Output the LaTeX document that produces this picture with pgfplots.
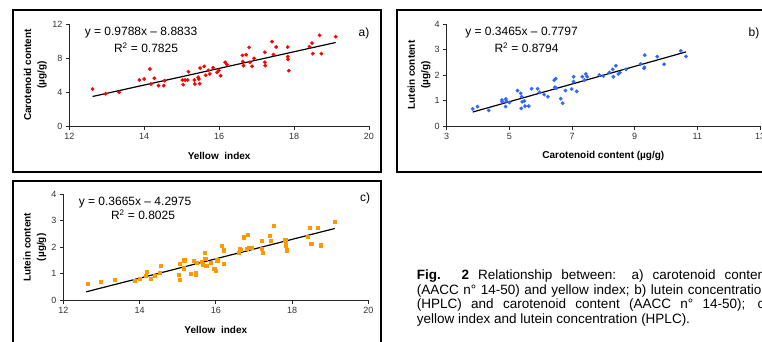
\documentclass[border=0pt]{standalone}
\usepackage{fontspec}
\setmainfont{Liberation Sans}
\usepackage{pgfplots}
\usepackage{pgfplotstable}
\pgfplotsset{compat=1.18}

\definecolor{redpt}{HTML}{FF0000}
\definecolor{bluept}{HTML}{3366FF}
\definecolor{orangept}{HTML}{FF9900}

\pgfplotstableread{
x y
12.62 4.35
12.97 3.80
13.33 3.96
13.87 5.41
14.00 5.53
14.15 6.71
14.18 4.94
14.27 5.61
14.38 4.75
14.52 4.75
14.54 5.33
15.02 5.41
15.04 4.86
15.09 5.41
15.16 5.41
15.18 6.39
15.34 5.41
15.35 4.94
15.44 5.73
15.46 5.53
15.48 4.98
15.49 6.82
15.60 7.02
15.64 5.96
15.71 6.55
15.75 6.12
15.84 6.86
15.94 6.31
15.99 6.55
16.04 5.92
16.16 7.49
16.21 7.22
16.62 8.31
16.63 7.57
16.65 7.10
16.72 8.39
16.80 9.25
16.82 7.49
16.88 7.02
16.93 7.96
17.22 8.67
17.22 7.49
17.23 7.10
17.41 9.92
17.45 8.39
17.52 9.29
17.83 9.29
17.83 8.16
17.84 7.84
17.86 6.51
18.41 9.33
18.48 9.76
18.50 8.51
18.68 10.67
18.73 8.51
19.11 10.51
}\dataA

\pgfplotstableread{
x y
3.83 0.67
3.98 0.76
4.34 0.61
4.76 1.02
4.77 0.95
4.88 0.76
4.89 1.06
4.90 0.98
5.00 0.92
5.26 1.39
5.36 1.28
5.38 0.69
5.39 1.15
5.41 0.95
5.48 0.98
5.50 0.78
5.62 0.78
5.71 1.46
5.90 1.46
5.96 1.32
6.11 1.23
6.23 1.15
6.43 1.80
6.45 1.52
6.48 1.86
6.50 1.48
6.64 1.07
6.70 0.89
6.79 1.39
6.99 1.45
7.05 1.93
7.05 1.74
7.15 1.36
7.33 1.93
7.40 1.80
7.44 2.04
7.48 1.93
7.87 2.00
8.00 1.96
8.19 2.10
8.30 2.22
8.32 1.93
8.40 2.36
8.48 2.04
8.53 2.10
8.72 2.22
9.19 2.43
9.30 2.26
9.31 2.30
9.32 2.78
9.72 2.72
9.94 2.42
10.47 2.95
10.64 2.73
}\dataB

\pgfplotstableread{
x y
12.63 0.64
12.98 0.70
13.34 0.78
13.88 0.73
14.01 0.83
14.16 0.93
14.19 1.08
14.29 0.83
14.39 0.92
14.53 1.03
14.56 1.32
15.03 0.96
15.06 0.79
15.06 1.38
15.16 1.21
15.17 1.51
15.34 0.99
15.43 1.48
15.47 1.02
15.48 0.96
15.50 1.43
15.63 1.46
15.65 1.36
15.70 1.79
15.72 1.58
15.75 1.30
15.86 1.42
15.96 1.19
16.00 1.11
16.02 1.51
16.06 1.48
16.16 2.06
16.20 1.89
16.21 1.38
16.61 1.80
16.62 1.96
16.65 1.91
16.74 2.38
16.81 1.94
16.83 2.47
16.86 1.99
16.93 1.99
17.21 2.25
17.21 1.96
17.22 1.79
17.42 2.44
17.45 2.25
17.52 2.81
17.82 2.30
17.83 2.18
17.83 2.05
17.87 1.89
18.41 2.40
18.47 2.75
18.50 2.13
18.68 2.75
18.75 2.08
19.12 2.97
}\dataC

\pgfplotsset{
  myaxis/.style={
    scale only axis,
    anchor=south west,
    axis lines=left,
    axis line style={-, line width=0.8pt, black!85},
    tick align=outside,
    major tick length=3.5pt,
    tick style={line width=0.8pt, black!85},
    tick label style={font=\fontsize{9}{9}\selectfont, text=black!80},
    /pgf/number format/assume math mode=true,
    label style={font=\bfseries\fontsize{10}{13.5}\selectfont},
    ylabel style={at={(axis description cs:#1,0.5)}, anchor=center, align=center},
    xlabel style={at={(axis description cs:0.5,0)}, anchor=center, yshift=-30pt},
    clip=false,
  },
}

\begin{document}
\begin{tikzpicture}
\clip (0pt,0pt) rectangle (762pt,341pt);
\fill[white] (0pt,0pt) rectangle (762pt,341pt);

% frames
\draw[line width=1.1pt] (13pt,169pt) rectangle (381pt,331pt);
\draw[line width=1.1pt] (397pt,169pt) rectangle (800pt,331pt);
\draw[line width=1.1pt] (13pt,-20pt) rectangle (381pt,160pt);

% panel a
\begin{axis}[myaxis=-0.1135,
  at={(69.3pt,215pt)}, width=299.7pt, height=102pt,
  xmin=12, xmax=20, ymin=0, ymax=12,
  xtick={12,14,16,18,20}, ytick={0,4,8,12},
  xlabel={Yellow\ \ index}, ylabel={Carotenoid content\\(µg/g)}]
\addplot[only marks, mark=*, mark size=1.7pt, color=redpt] table {\dataA};
\addplot[black, line width=1.2pt] coordinates {(12.62,3.469) (19.11,9.822)};
\end{axis}

% panel b
\begin{axis}[myaxis=-0.088,
  at={(446.7pt,215pt)}, width=313.3pt, height=102pt,
  xmin=3, xmax=13, ymin=0, ymax=4,
  xtick={3,5,7,9,11,13}, ytick={0,1,2,3,4},
  xlabel={Carotenoid content (µg/g)}, ylabel={Lutein content\\(µg/g)}]
\addplot[only marks, mark=*, mark size=1.7pt, color=bluept] table {\dataB};
\addplot[black, line width=1.2pt] coordinates {(3.83,0.547) (10.64,2.907)};
\end{axis}

% panel c
\begin{axis}[myaxis=-0.093,
  at={(63.3pt,40.7pt)}, width=305pt, height=106pt,
  xmin=12, xmax=20, ymin=0, ymax=4,
  xtick={12,14,16,18,20}, ytick={0,1,2,3,4},
  xlabel={Yellow\ \ index}, ylabel={Lutein content\\(µg/g)}]
\addplot[only marks, mark=square*, mark size=1.6pt, color=orangept] table {\dataC};
\addplot[black, line width=1.2pt] coordinates {(12.6,0.3205) (19.12,2.71)};
\end{axis}

% equations and panel letters
\begin{scope}[every node/.style={font=\fontsize{12}{14}\selectfont, inner sep=0pt}]
\node at (141pt,308pt) {y = 0.9788x – 8.8833};
\node at (146pt,293pt) {R\textsuperscript{2} = 0.7825};
\node at (364pt,308pt) {a)};
\node at (521.5pt,308pt) {y = 0.3465x – 0.7797};
\node at (526.5pt,293pt) {R\textsuperscript{2} = 0.8794};
\node at (754pt,308pt) {b)};
\node at (135pt,138.7pt) {y = 0.3665x – 4.2975};
\node at (143pt,126pt) {R\textsuperscript{2} = 0.8025};
\node at (365pt,143pt) {c)};
\end{scope}

% caption
\node[anchor=north west, text width=352pt, align=justify, inner sep=0pt,
  font=\fontsize{13.5}{14.5}\selectfont] at (416.7pt,71pt)
  {\tolerance=10000\hbadness=10000\hyphenpenalty=10000
   \textbf{Fig. 2} Relationship between: a) carotenoid content\linebreak
   (AACC n° 14-50) and yellow index; b) lutein concentration\linebreak
   (HPLC) and carotenoid content (AACC n° 14-50); c)\linebreak
   yellow index and lutein concentration (HPLC).};
\end{tikzpicture}
\end{document}
